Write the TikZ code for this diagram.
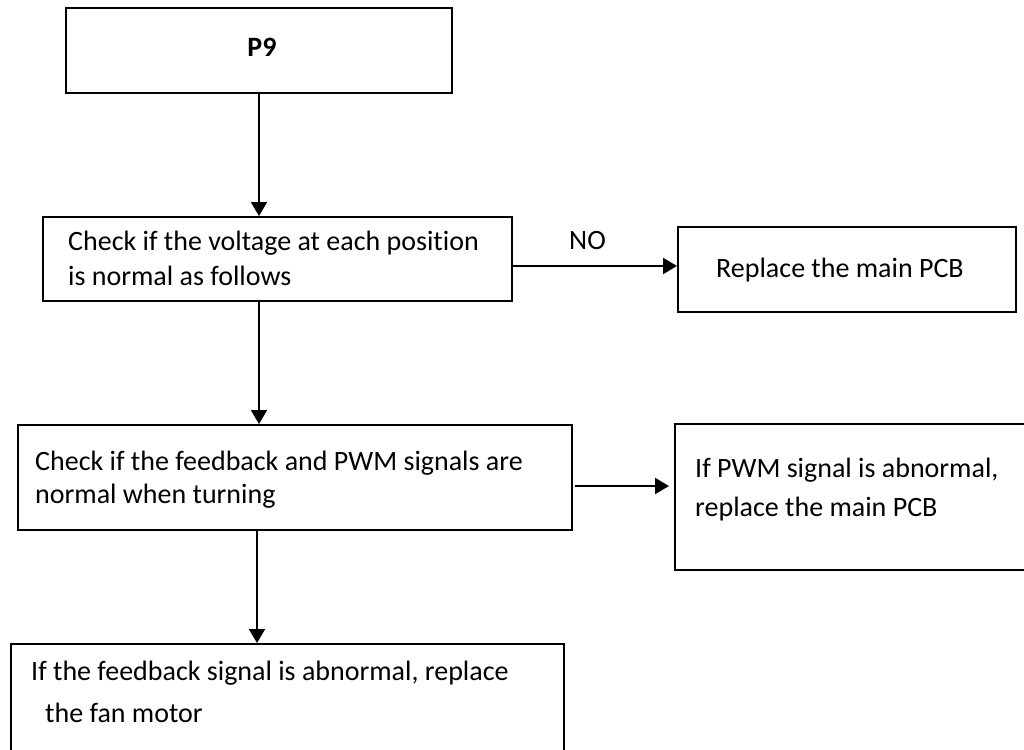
\documentclass[tikz,border=0pt]{standalone}
\usepackage{fontspec}
\setmainfont{Carlito}[Ligatures={NoCommon}]
\usetikzlibrary{arrows.meta}
\begin{document}
\begin{tikzpicture}[x=1pt,y=-1pt,
  box/.style={draw,line width=2pt,rectangle,inner sep=0pt,anchor=north west},
  txt/.style={anchor=base west,inner sep=0pt,font=\fontsize{28}{34}\selectfont},
  arr/.style={line width=2pt,-{Triangle[width=16pt,length=14pt]}}]
\useasboundingbox[fill=white] (0,0) rectangle (1024,749);
\clip (0,0) rectangle (1024,749);
% boxes
\node[box,minimum width=386pt,minimum height=85pt] (p9) at (65,7) {};
\node[box,minimum width=469pt,minimum height=84pt] (chk) at (42,216) {};
\node[box,minimum width=338pt,minimum height=85pt] (rep) at (677,226) {};
\node[box,minimum width=554pt,minimum height=105pt] (fb) at (17,424) {};
\node[box,minimum width=370pt,minimum height=146pt] (pwm) at (674,423) {};
\node[box,minimum width=553pt,minimum height=130pt] (fan) at (10,643) {};
% texts
\node[txt,anchor=base,font=\fontsize{28}{34}\selectfont\bfseries] (tp9) at (262,57) {P9};
\node[txt] (tchk1) at (68,250) {Check if the voltage at each position};
\node[txt] (tchk2) at (68,285) {is normal as follows};
\node[txt] (tno) at (569,249) {NO};
\node[txt] (trep) at (716,277) {Replace the main PCB};
\node[txt] (tfb1) at (35,470) {Check if the feedback and PWM signals are};
\node[txt] (tfb2) at (35,503) {normal when turning};
\node[txt] (tpwm1) at (695,477) {If PWM signal is abnormal,};
\node[txt] (tpwm2) at (695,516) {replace the main PCB};
\node[txt] (tfan1) at (31,680) {If the feedback signal is abnormal, replace};
\node[txt] (tfan2) at (45,722) {the fan motor};
% connectors
\coordinate (c1) at (259,0);
\coordinate (c2) at (257,0);
\coordinate (r1) at (0,266);
\coordinate (r2) at (0,486);
\draw[arr] (p9.south -| c1) -- (chk.north -| c1);
\draw[arr] (chk.east |- r1) -- (rep.west |- r1);
\draw[arr] (chk.south -| c1) -- (fb.north -| c1);
\draw[arr,shorten <=2pt,shorten >=5pt] (fb.east |- r2) -- (pwm.west |- r2);
\draw[arr] (fb.south -| c2) -- (fan.north -| c2);
\end{tikzpicture}
\end{document}
